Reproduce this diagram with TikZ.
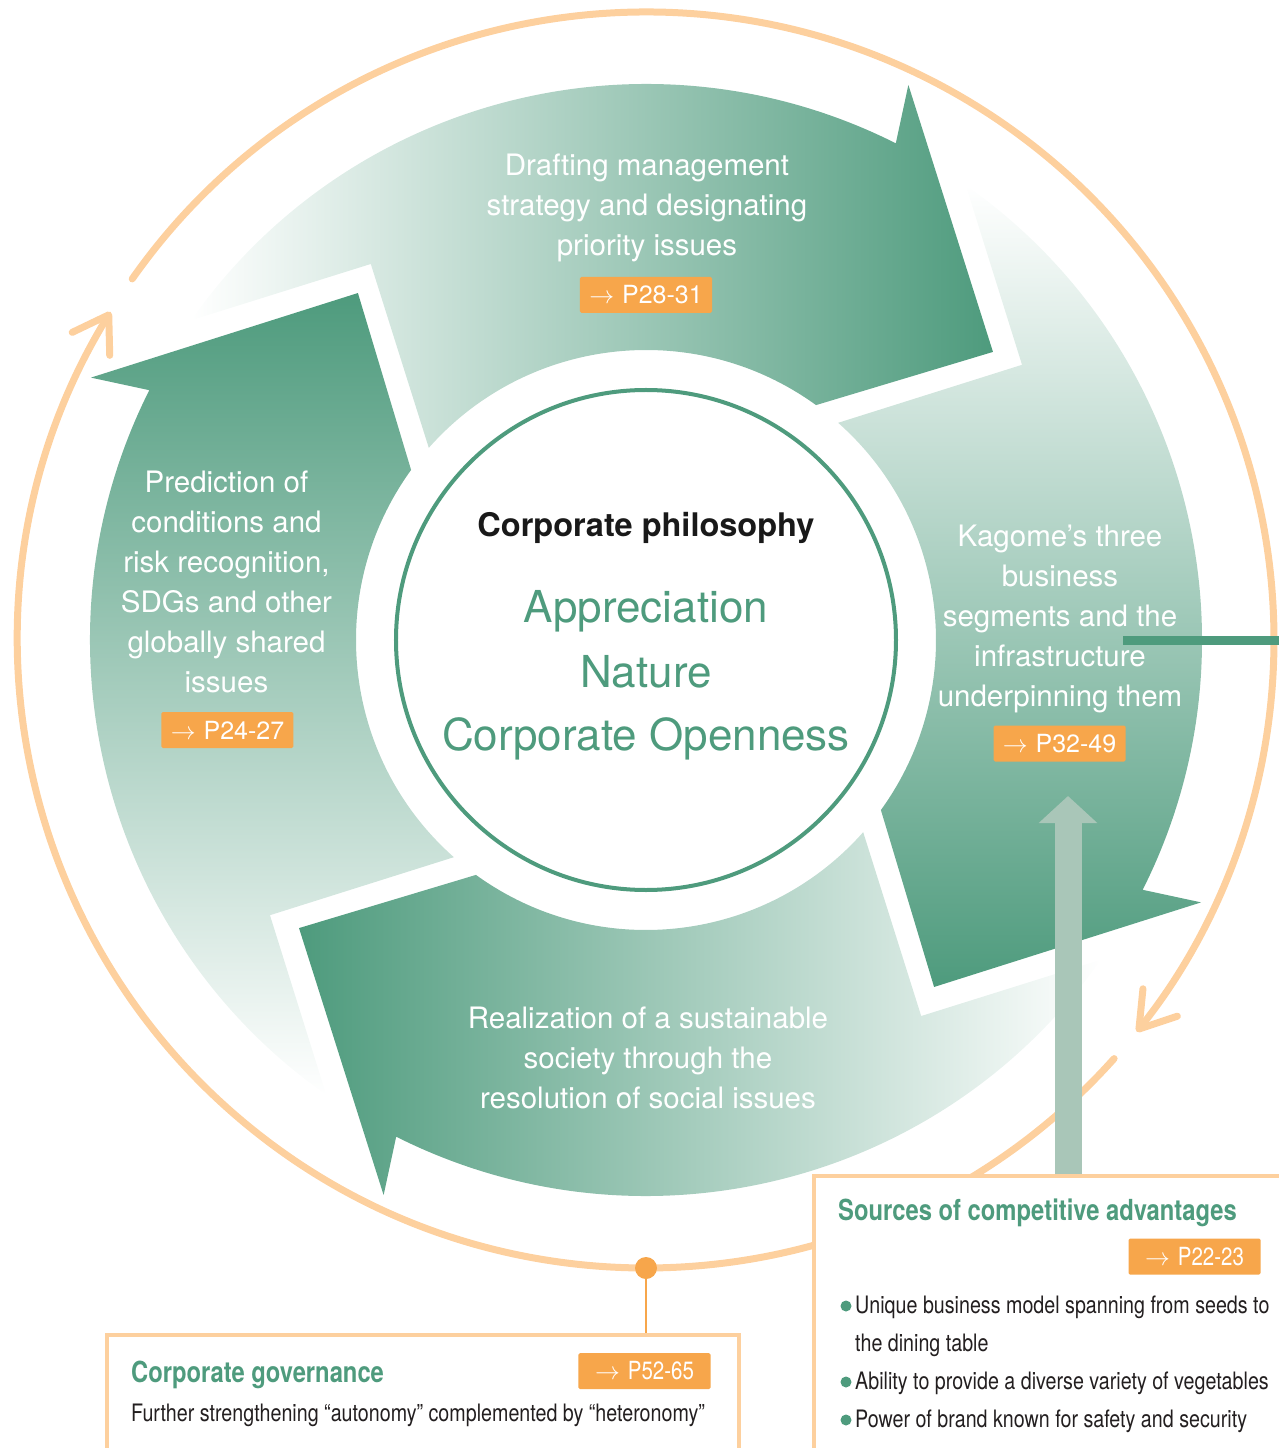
\documentclass[tikz,border=0pt]{standalone}
\usepackage{fontspec}
\setmainfont{TeX Gyre Heros}
\newfontfamily\condfont[FakeStretch=0.82]{TeX Gyre Heros}
\usepackage{tikz}
\usetikzlibrary{arrows.meta}

\definecolor{kgreen}{RGB}{78,155,125}
\definecolor{ringorange}{RGB}{253,208,158}
\definecolor{tagorange}{RGB}{247,166,75}
\definecolor{upgreen}{RGB}{169,198,184}
\definecolor{textdark}{RGB}{35,31,32}

\begin{document}
\begin{tikzpicture}[x=1pt, y=1pt]
	\tikzstyle{ring} = [draw=ringorange, line width=7pt, line cap=round,
	-{Straight Barb[round, length=34pt, width=44pt]}]
	\tikzstyle{steptext} = [text=white, align=center, inner sep=0pt,
	font=\fontsize{29.5}{40}\selectfont]
	\tikzstyle{pg} = [fill=tagorange, text=white, rounded corners=1.5pt,
	minimum width=132pt, minimum height=36pt, inner sep=0pt,
	font=\fontsize{25}{25}\selectfont]
	\tikzstyle{pgcond} = [pg, font=\condfont\fontsize{25}{25}\selectfont]
	\tikzstyle{panel} = [draw=ringorange, line width=4pt, fill=white, inner sep=0pt]
	\tikzstyle{heading} = [text=kgreen, anchor=base west, inner sep=0pt,
	font=\condfont\bfseries\fontsize{29}{29}\selectfont]
	\tikzstyle{item} = [text=textdark, anchor=base west, inner sep=0pt, align=left,
	font=\condfont\fontsize{24}{38}\selectfont]
	\tikzstyle{value} = [text=kgreen, anchor=base, inner sep=0pt,
	font=\fontsize{44}{44}\selectfont]
	\useasboundingbox (-646,-808) rectangle (632,640);
	% Cycle arrows
	\foreach \off/\sh in {0/90, -90/0, -180/-90, -270/-180}
	\shade[top color=white, bottom color=kgreen, shading angle=\sh]
	(138.5+\off:290) -- (126.2+\off:466) -- (144.9+\off:556)
	arc[start angle=144.9+\off, end angle=63.3+\off, radius=556]
	-- (64.7+\off:614) -- (39.7+\off:451) -- (54.1+\off:290)
	arc[start angle=54.1+\off, end angle=138.5+\off, radius=290] -- cycle;
	% Outer ring
	\draw[ring] (144.9:628) arc[start angle=144.9, end angle=-38.6, radius=628];
	\draw[ring] (-41.8:628) arc[start angle=-41.8, end angle=-211.5, radius=628];
	% Place nodes
	\node[circle, draw=kgreen, line width=4pt, fill=white, minimum size=500pt,
	inner sep=0pt] (phil) at (0,0) {};
	\node[anchor=base, inner sep=0pt, text=black!90,
	font=\bfseries\fontsize{32.5}{32.5}\selectfont] (philo) at (0,103) {Corporate philosophy};
	\node[value] (appr) at (0,17) {Appreciation};
	\node[value] (natr) at (0,-47) {Nature};
	\node[value] (open) at (0,-110) {Corporate Openness};
	\node[steptext] (draft) at (1,432.5) {Drafting management\\strategy and designating\\priority issues};
	\node[pg] (pdraft) at (0,345) {$\rightarrow$\hspace{8pt}P28-31};
	\node[steptext] (segm) at (414,21) {Kagome’s three\\business\\segments and the\\infrastructure\\underpinning them};
	\node[pg] (psegm) at (413.5,-103.5) {$\rightarrow$\hspace{8pt}P32-49};
	\node[steptext] (pred) at (-419.5,58.5) {Prediction of\\conditions and\\risk recognition,\\SDGs and other\\globally shared\\issues};
	\node[pg] (ppred) at (-418.5,-90) {$\rightarrow$\hspace{8pt}P24-27};
	\node[steptext] (real) at (2,-417.5) {Realization of a sustainable\\society through the\\resolution of social issues};
	\coordinate (segA) at (477,0);
	\coordinate (segB) at (640,0);
	\draw[kgreen, line width=9pt] (segA) -- (segB);
	% Boxes
	\node[panel, minimum width=476pt, minimum height=300pt] (src) at (406,-686) {};
	\node[panel, minimum width=631pt, minimum height=140pt] (gov) at (-223,-765) {};
	\node[heading] (srchead) at (192,-580) {Sources of competitive advantages};
	\node[pgcond] (psrc) at (548.5,-616.5) {$\rightarrow$\hspace{8pt}P22-23};
	\foreach \y in {-666,-742,-780}
	\fill[kgreen] (200,\y) circle (5.5);
	\node[item, anchor=north west] (it1) at (209,-655.5) {Unique business model spanning from seeds to\\the dining table};
	\node[item] (it2) at (209,-749) {Ability to provide a diverse variety of vegetables};
	\node[item] (it3) at (209,-787) {Power of brand known for safety and security};
	\node[heading] (govhead) at (-515,-742) {Corporate governance};
	\node[pgcond] (pgov) at (-1.5,-731) {$\rightarrow$\hspace{8pt}P52-65};
	\node[item] (govtext) at (-515,-781) {Further strengthening “autonomy” complemented by “heteronomy”};
	% Draw edges
	\coordinate (srcup) at (422,-156);
	\draw[upgreen, line width=27pt, -{Triangle[length=27pt, width=57pt]}] (src.north -| srcup) -- (srcup);
	\node[circle, fill=tagorange, minimum size=22pt, inner sep=0pt] (gdot) at (0,-628) {};
	\draw[tagorange, line width=1.2pt] (gdot) -- (gdot |- gov.north);
\end{tikzpicture}
\end{document}
